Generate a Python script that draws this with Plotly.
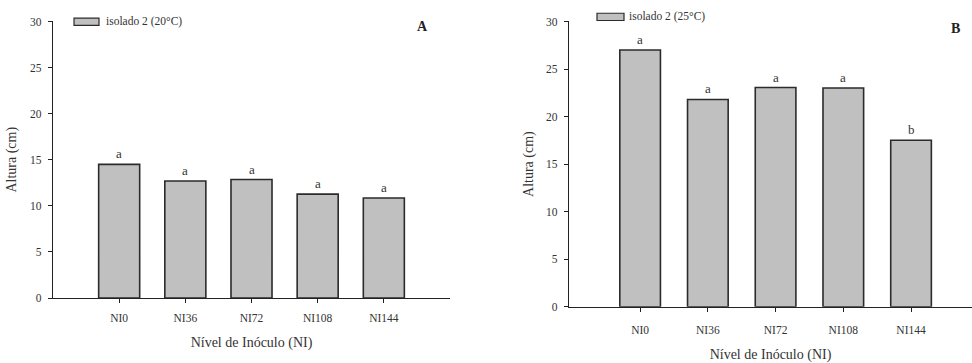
import plotly.graph_objects as go

categories = ["NI0", "NI36", "NI72", "NI108", "NI144"]
altura_20 = [14.5, 12.7, 12.85, 11.27, 10.85]
altura_25 = [27.0, 21.8, 23.05, 23.0, 17.5]
letters_20 = ["a", "a", "a", "a", "a"]
letters_25 = ["a", "a", "a", "a", "b"]
legend_20 = "isolado 2 (20°C)"
legend_25 = "isolado 2 (25°C)"
y_ticks = [0, 5, 10, 15, 20, 25, 30]

W, H = 972, 363
FONT = "Liberation Serif, Times New Roman, DejaVu Serif, serif"
BAR_FILL = "#c0c0c0"
BAR_LINE = "#2b2b2b"
AX = "#222222"
TXT = "#333333"

def px_x(p):
    return p / W

def px_y(p):
    return 1 - p / H

fig = go.Figure()

fig.add_trace(go.Bar(x=list(range(len(categories))), y=altura_20, width=0.62,
                     marker=dict(color=BAR_FILL, line=dict(color=BAR_LINE, width=1.6)),
                     xaxis="x", yaxis="y", showlegend=False))
fig.add_trace(go.Bar(x=list(range(len(categories))), y=altura_25, width=0.6,
                     marker=dict(color=BAR_FILL, line=dict(color=BAR_LINE, width=1.6)),
                     xaxis="x2", yaxis="y2", showlegend=False))

common_x = dict(tickmode="array", tickvals=list(range(len(categories))), ticktext=categories,
                showline=True, linecolor=AX, linewidth=1.2, ticks="outside", ticklen=4,
                tickcolor=AX, showgrid=False, zeroline=False,
                tickfont=dict(family=FONT, size=11.5, color=TXT))
common_y = dict(range=[0, 30], tickmode="array", tickvals=y_ticks,
                showline=True, linecolor=AX, linewidth=1.2, ticks="outside", ticklen=4,
                tickcolor=AX, showgrid=False, zeroline=False,
                tickfont=dict(family=FONT, size=11.5, color=TXT))

fig.update_layout(
    width=W, height=H, margin=dict(l=0, r=0, t=0, b=0),
    plot_bgcolor="white", paper_bgcolor="white",
    font=dict(family=FONT, color=TXT),
    xaxis=dict(domain=[px_x(53), px_x(450)], range=[-1, 5], anchor="y", ticklabelstandoff=5,
               title=dict(text="Nível de Inóculo (NI)", font=dict(family=FONT, size=14, color=TXT),
                          standoff=14), **common_x),
    yaxis=dict(domain=[px_y(302), px_y(16)], anchor="x", ticklabelstandoff=4,
               title=dict(text="Altura (cm)", font=dict(family=FONT, size=14, color=TXT),
                          standoff=10), **common_y),
    xaxis2=dict(domain=[px_x(569), 1.0], range=[-1.05, 4.9], anchor="y2", ticklabelstandoff=8,
                title=dict(text="Nível de Inóculo (NI)", font=dict(family=FONT, size=14, color=TXT),
                           standoff=14), **common_x),
    yaxis2=dict(domain=[px_y(311), px_y(16)], anchor="x2", ticklabelstandoff=4,
                title=dict(text="Altura (cm)", font=dict(family=FONT, size=14, color=TXT),
                           standoff=9), **common_y),
)

annotations = []
for i, (v, t) in enumerate(zip(altura_20, letters_20)):
    annotations.append(dict(x=i, y=v, xref="x", yref="y", text=t, showarrow=False,
                            yanchor="bottom", yshift=1,
                            font=dict(family=FONT, size=13, color=TXT)))
for i, (v, t) in enumerate(zip(altura_25, letters_25)):
    annotations.append(dict(x=i, y=v, xref="x2", yref="y2", text=t, showarrow=False,
                            yanchor="bottom", yshift=1,
                            font=dict(family=FONT, size=13, color=TXT)))

# panel letters
annotations.append(dict(x=px_x(422), y=px_y(21), xref="paper", yref="paper", text="<b>A</b>",
                        showarrow=False, xanchor="center", yanchor="middle",
                        font=dict(family=FONT, size=14, color="#222")))
annotations.append(dict(x=px_x(955), y=px_y(23), xref="paper", yref="paper", text="<b>B</b>",
                        showarrow=False, xanchor="center", yanchor="middle",
                        font=dict(family=FONT, size=14, color="#222")))

# legend texts
annotations.append(dict(x=px_x(104), y=px_y(16), xref="paper", yref="paper", text=legend_20,
                        showarrow=False, xanchor="left", yanchor="middle",
                        font=dict(family=FONT, size=11.5, color=TXT)))
annotations.append(dict(x=px_x(627), y=px_y(11), xref="paper", yref="paper", text=legend_25,
                        showarrow=False, xanchor="left", yanchor="middle",
                        font=dict(family=FONT, size=11.5, color=TXT)))

shapes = [
    dict(type="rect", xref="paper", yref="paper", x0=px_x(74), x1=px_x(99), y0=px_y(20), y1=px_y(12.5),
         fillcolor=BAR_FILL, line=dict(color=BAR_LINE, width=1.2)),
    dict(type="rect", xref="paper", yref="paper", x0=px_x(597), x1=px_x(624), y0=px_y(15), y1=px_y(7.5),
         fillcolor=BAR_FILL, line=dict(color=BAR_LINE, width=1.2)),
]

fig.update_layout(annotations=annotations, shapes=shapes)

fig.write_html("out.html")
